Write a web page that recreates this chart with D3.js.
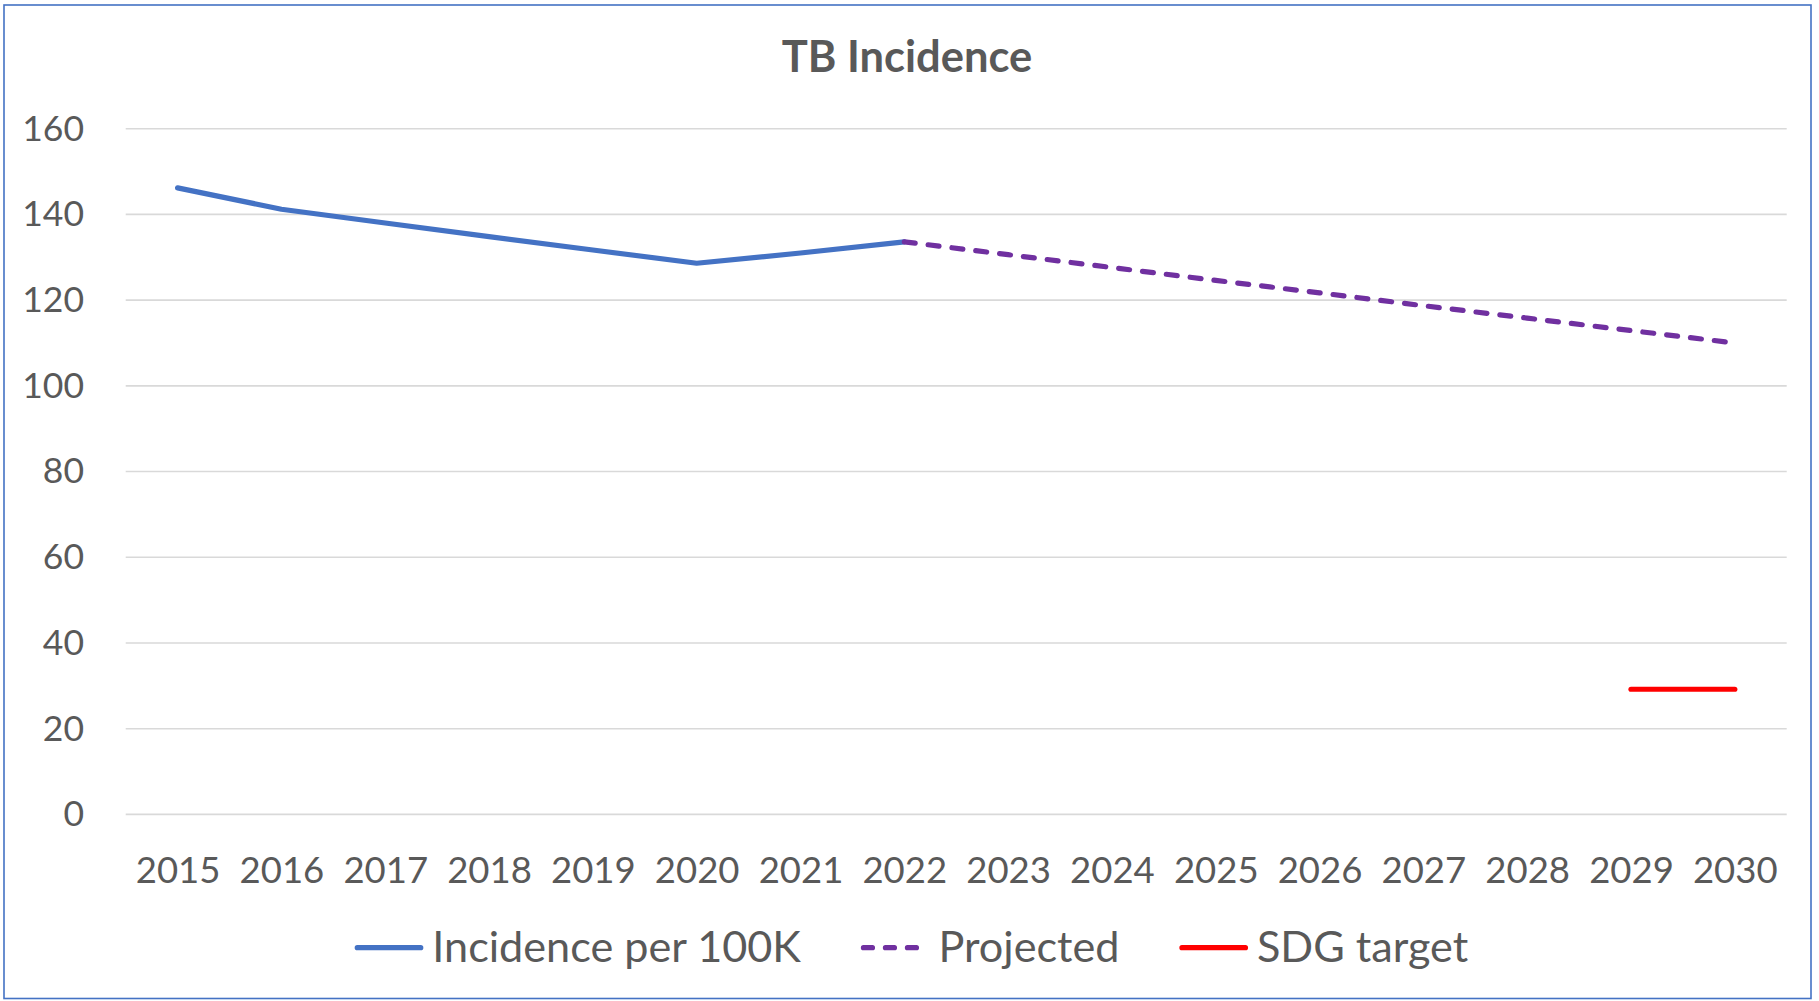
<!DOCTYPE html>
<html>
<head>
<meta charset="utf-8">
<script src="https://cdn.jsdelivr.net/npm/d3@7"></script>
<style>
  html, body { margin: 0; padding: 0; background: #ffffff; }
  svg { display: block; }
</style>
</head>
<body>
<svg id="chart" width="1819" height="1001"></svg>
<script>
// ---- Data ----
const years = ["2015","2016","2017","2018","2019","2020","2021","2022","2023","2024","2025","2026","2027","2028","2029","2030"];
const incidenceYears = ["2015","2016","2017","2018","2019","2020","2021","2022"];
const incidenceValues = [146.2, 141.2, 138.0, 134.8, 131.7, 128.6, 131.0, 133.6];
const projectedYears = ["2022","2023","2024","2025","2026","2027","2028","2029","2030"];
const projectedValues = [133.6, 130.6, 127.6, 124.6, 121.7, 118.7, 115.8, 112.9, 110.0];
const targetYears = ["2029","2030"];
const targetValues = [29.2, 29.2];
const yTicks = [0, 20, 40, 60, 80, 100, 120, 140, 160];
const legendLabels = ["Incidence per 100K", "Projected", "SDG target"];
const title = "TB Incidence";

// ---- Layout ----
const W = 1819, H = 1001;
const plotLeft = 125.7, plotRight = 1786.7, plotTop = 128.7, plotBottom = 814.4;
const textColor = "#595959";
const gridColor = "#D9D9D9";
const colors = ["#4472C4", "#7030A0", "#FF0000"];
const fontFamily = "Lato, 'Open Sans', sans-serif";

const svg = d3.select("#chart");
svg.append("rect").attr("x", 0).attr("y", 0).attr("width", W).attr("height", H).attr("fill", "#fff");
svg.append("rect")
  .attr("x", 4).attr("y", 5).attr("width", 1807).attr("height", 993.5)
  .attr("fill", "none").attr("stroke", "#4472C4").attr("stroke-width", 1.6);

const x = d3.scalePoint().domain(years).range([plotLeft, plotRight]).padding(0.5);
const y = d3.scaleLinear().domain([0, 160]).range([plotBottom, plotTop]);

// Title
svg.append("text")
  .attr("x", 907).attr("y", 72.3)
  .attr("text-anchor", "middle")
  .attr("font-family", fontFamily).attr("font-weight", "bold")
  .attr("font-size", 43.5).attr("fill", textColor)
  .text(title);

// Gridlines
svg.append("g").selectAll("line").data(yTicks).join("line")
  .attr("x1", plotLeft).attr("x2", plotRight)
  .attr("y1", d => y(d)).attr("y2", d => y(d))
  .attr("stroke", gridColor).attr("stroke-width", 1.6);

// Y axis
const yAxis = svg.append("g")
  .attr("transform", `translate(${plotLeft},0)`)
  .call(d3.axisLeft(y).tickValues(yTicks).tickSize(0).tickPadding(41.7));
yAxis.select(".domain").remove();
yAxis.selectAll("text")
  .attr("font-family", fontFamily).attr("font-size", 35.5).attr("fill", textColor);

// X axis
const xAxis = svg.append("g")
  .attr("transform", `translate(0,${plotBottom})`)
  .call(d3.axisBottom(x).tickSize(0).tickPadding(42.5));
xAxis.select(".domain").remove();
xAxis.selectAll("text")
  .attr("font-family", fontFamily).attr("font-size", 36.5).attr("fill", textColor);

// Lines
const line = d3.line().x(d => x(d[0])).y(d => y(d[1]));
const series = [
  { pts: d3.zip(incidenceYears, incidenceValues), color: colors[0], dash: null },
  { pts: d3.zip(projectedYears, projectedValues), color: colors[1], dash: "11,13" },
  { pts: d3.zip(targetYears, targetValues), color: colors[2], dash: null }
];
svg.append("g").selectAll("path").data(series).join("path")
  .attr("d", d => line(d.pts))
  .attr("fill", "none")
  .attr("stroke", d => d.color)
  .attr("stroke-width", 5.2)
  .attr("stroke-linecap", "round")
  .attr("stroke-linejoin", "round")
  .attr("stroke-dasharray", d => d.dash);

// Legend
const legendY = 947.7;
const lineLen = 66, lineGap = 9, itemGap = 60;
const legend = svg.append("g");
const items = legend.selectAll("g").data(series.map((s, i) => ({ ...s, label: legendLabels[i] }))).join("g");
items.append("line")
  .attr("x1", 2.5).attr("x2", lineLen)
  .attr("y1", legendY).attr("y2", legendY)
  .attr("stroke", d => d.color).attr("stroke-width", 5.2)
  .attr("stroke-linecap", "round")
  .attr("stroke-dasharray", d => d.dash ? "9,13" : null);
items.append("text")
  .attr("x", lineLen + 2.5 + lineGap).attr("y", legendY + 14.5)
  .attr("font-family", fontFamily).attr("font-size", 43.2).attr("fill", textColor)
  .text(d => d.label);
let offs = [], cur = 0;
items.each(function() {
  const w = this.querySelector("text").getComputedTextLength() + lineLen + 2.5 + lineGap;
  offs.push(cur); cur += w + itemGap;
});
const totalW = cur - itemGap;
const startX = 914 - totalW / 2 - 2.5;
items.attr("transform", (d, i) => `translate(${startX + offs[i]},0)`);
</script>
</body>
</html>
